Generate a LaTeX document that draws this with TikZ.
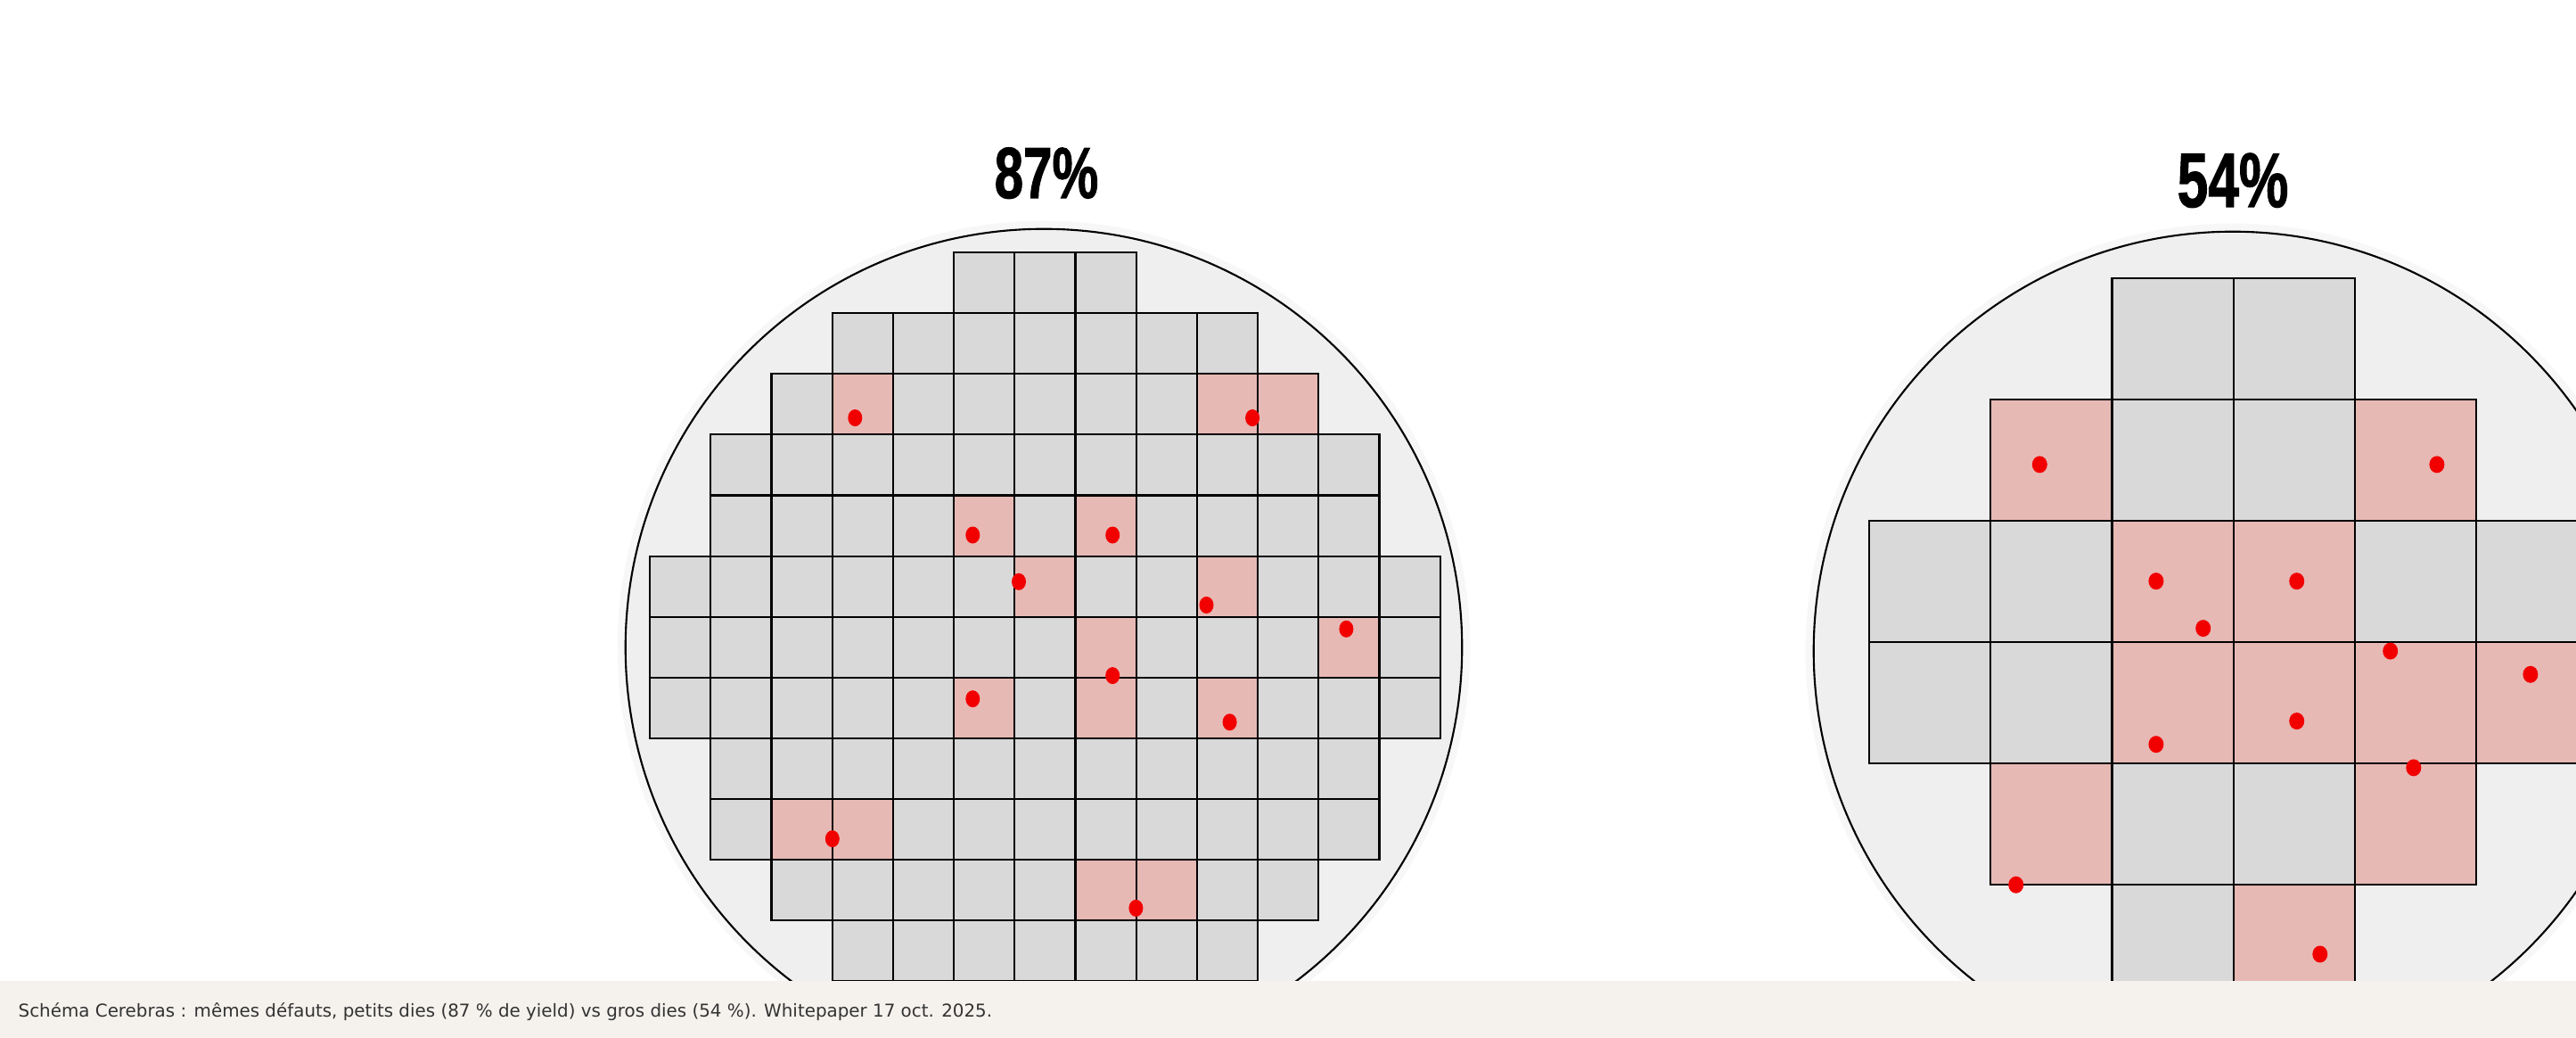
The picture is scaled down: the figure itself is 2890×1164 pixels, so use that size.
\documentclass[tikz,border=0pt]{standalone}
\usepackage{fontspec}
\setmainfont{DejaVu Sans}
\newfontfamily\titlefont{Liberation Sans}[BoldFeatures={FakeBold=1.5}]
\usepackage{graphicx}
\definecolor{waferfill}{HTML}{EFEFEF}
\definecolor{halocol}{HTML}{F7F7F7}
\definecolor{cellgray}{HTML}{D9D9D9}
\definecolor{cellred}{HTML}{E7B9B5}
\definecolor{dotred}{HTML}{F20000}
\definecolor{capbg}{HTML}{F5F2EE}
\definecolor{captext}{HTML}{333333}
\tikzset{
  halo/.style={draw=halocol, line width=4pt},
  wafer/.style={draw=black, line width=0.6pt, fill=waferfill},
  cellbox/.style={draw=black, line width=0.6pt},
  defect/.style={fill=dotred, draw=none},
  yieldlabel/.style={font=\titlefont\bfseries, anchor=base, inner sep=0pt, text=black},
  captionlabel/.style={font=\fontsize{5.65}{6.8}\selectfont, anchor=base west, inner sep=0pt, text=captext},
}
\begin{document}
\begin{tikzpicture}[x=0.01cm,y=-0.01cm]
\useasboundingbox (0,0) rectangle (2890,1164);
\clip (0,0) rectangle (2890,1164);
\fill[white] (0,0) rectangle (2890,1164);

% ---------- left wafer (small dies) ----------
\coordinate (LC) at (1171,726);
\draw[halo] (LC) circle[radius=4.71cm];
\draw[wafer] (LC) circle[radius=4.69cm];
\foreach \r/\a/\b in {0/5/7,1/3/9,2/2/10,3/1/11,4/1/11,5/0/12,6/0/12,7/0/12,8/1/11,9/1/11,10/2/10,11/3/9,12/5/7}{
  \foreach \c in {\a,...,\b}{
    \fill[cellgray] ({729.1+\c*68.2},{283.1+\r*68.1}) rectangle ++(68.2,68.1);
  }
}
\foreach \r/\c in {2/3,2/9,2/10,4/5,4/7,5/6,5/9,6/7,7/7,6/11,7/5,7/9,9/2,9/3,10/7,10/8}{
  \fill[cellred] ({729.1+\c*68.2},{283.1+\r*68.1}) rectangle ++(68.2,68.1);
}
\foreach \r/\a/\b in {0/5/7,1/3/9,2/2/10,3/1/11,4/1/11,5/0/12,6/0/12,7/0/12,8/1/11,9/1/11,10/2/10,11/3/9,12/5/7}{
  \foreach \c in {\a,...,\b}{
    \draw[cellbox] ({729.1+\c*68.2},{283.1+\r*68.1}) rectangle ++(68.2,68.1);
  }
}
\foreach \x/\y in {959.3/468.6,1405.1/468.6,1091.3/600.0,1248.2/600.0,1143.0/652.3,1353.5/678.5,1248.2/757.6,1510.4/705.3,1091.3/783.7,1379.6/809.8,933.8/940.6,1274.4/1018.4}{
  \fill[defect] (\x,\y) ellipse [x radius=0.08cm, y radius=0.095cm];
}
\node[yieldlabel, font=\titlefont\bfseries\fontsize{23}{23}\selectfont] (t87) at (1174,222) {\scalebox{0.72}[1]{87\%}};

% ---------- right wafer (large dies) ----------
\coordinate (RC) at (2505,730);
\draw[halo] (RC) circle[radius=4.72cm];
\draw[wafer] (RC) circle[radius=4.70cm];
\foreach \r/\a/\b in {0/2/3,1/1/4,2/0/5,3/0/5,4/1/4,5/2/3}{
  \foreach \c in {\a,...,\b}{
    \fill[cellgray] ({2097.1+\c*136.2},{311.8+\r*136.0}) rectangle ++(136.2,136.0);
  }
}
\foreach \r/\c in {1/1,1/4,2/2,2/3,3/2,3/3,3/4,3/5,4/1,4/4,5/3}{
  \fill[cellred] ({2097.1+\c*136.2},{311.8+\r*136.0}) rectangle ++(136.2,136.0);
}
\foreach \r/\a/\b in {0/2/3,1/1/4,2/0/5,3/0/5,4/1/4,5/2/3}{
  \foreach \c in {\a,...,\b}{
    \draw[cellbox] ({2097.1+\c*136.2},{311.8+\r*136.0}) rectangle ++(136.2,136.0);
  }
}
\foreach \x/\y in {2288.3/520.9,2733.9/520.9,2418.9/651.7,2471.7/704.6,2576.7/651.7,2418.9/834.7,2576.7/808.6,2681.7/730.1,2838.9/756.3,2261.7/992.2,2707.8/860.9,2602.8/1070.0}{
  \fill[defect] (\x,\y) ellipse [x radius=0.085cm, y radius=0.095cm];
}
\node[yieldlabel, font=\titlefont\bfseries\fontsize{24.6}{24.6}\selectfont] (t54) at (2505,232) {\scalebox{0.72}[1]{54\%}};

% ---------- caption band ----------
\fill[capbg] (0,1100) rectangle (2890,1164);
\node[captionlabel] (cap) at (20,1140) {Schéma Cerebras : mêmes défauts, petits dies (87 \% de yield) vs gros dies (54 \%). Whitepaper 17 oct. 2025.};
\end{tikzpicture}
\end{document}
